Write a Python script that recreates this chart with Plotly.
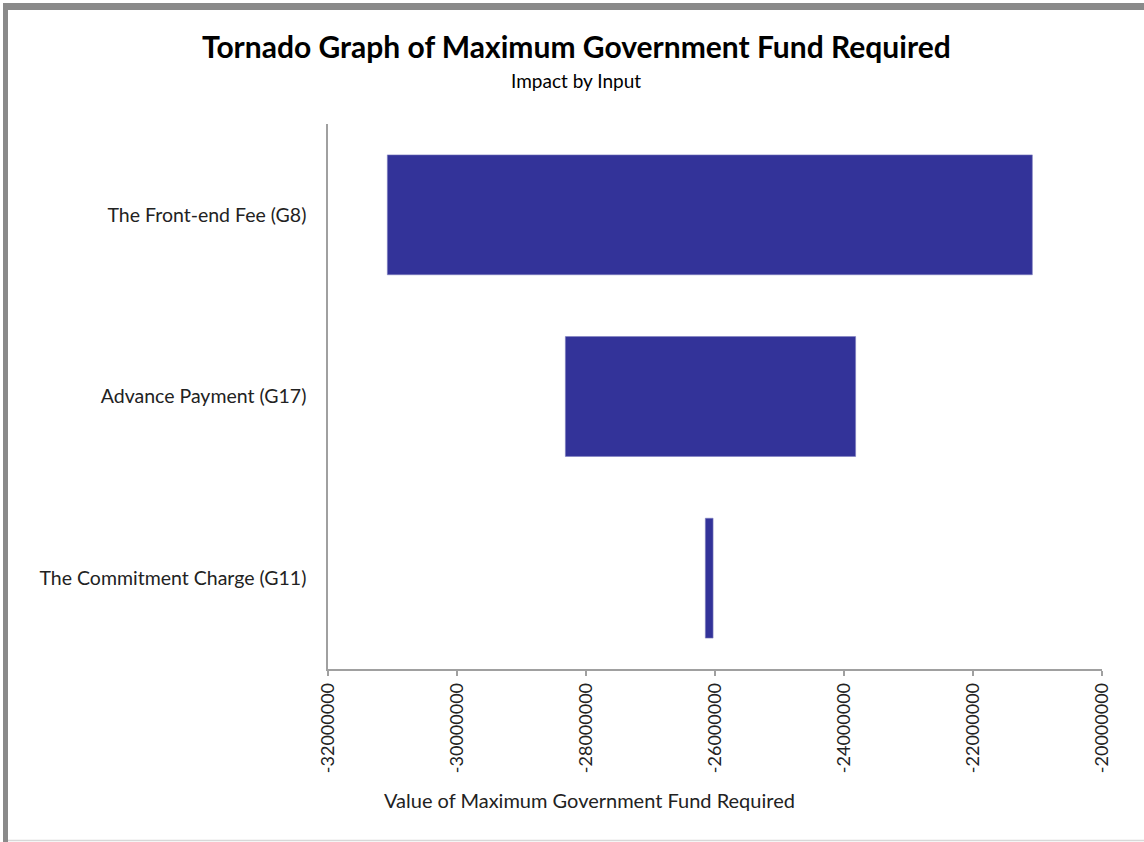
import plotly.graph_objects as go

# Inputs (top to bottom) and the output range each one produces
inputs = ["The Front-end Fee (G8)", "Advance Payment (G17)", "The Commitment Charge (G11)"]
low_values = [-31080000, -28320000, -26150000]
high_values = [-21080000, -23820000, -26030000]

tick_values = [-32000000, -30000000, -28000000, -26000000, -24000000, -22000000, -20000000]
tick_labels = ["-32000000", "-30000000", "-28000000", "-26000000", "-24000000", "-22000000", "-20000000"]

W, H = 1144, 842
ML, MR, MT, MB = 328, 42, 124, 173
PW, PH = W - ML - MR, H - MT - MB


def px_x(px):
    return (px - ML) / PW


def px_y(py):
    return (H - MB - py) / PH


FONT = "Lato"
TEXT = "#222222"

fig = go.Figure()
fig.add_trace(go.Bar(
    y=inputs,
    x=[h - l for l, h in zip(low_values, high_values)],
    base=low_values,
    orientation="h",
    width=0.66,
    marker=dict(color="#333399", line=dict(color="#8080c0", width=0.6)),
    hoverinfo="skip",
))

fig.update_layout(
    width=W,
    height=H,
    margin=dict(l=ML, r=MR, t=MT, b=MB),
    paper_bgcolor="white",
    plot_bgcolor="white",
    showlegend=False,
    font=dict(family=FONT, color=TEXT),
    xaxis=dict(
        range=[-32000000, -20000000],
        tickvals=tick_values,
        ticktext=tick_labels,
        tickangle=-90,
        ticks="outside",
        ticklen=5,
        tickcolor="#a0a0a0",
        tickwidth=1.5,
        tickfont=dict(size=18, family=FONT, color=TEXT),
        showgrid=False,
        zeroline=False,
        showline=True,
        linecolor="#a0a0a0",
        linewidth=1.5,
    ),
    yaxis=dict(
        categoryorder="array",
        categoryarray=inputs[::-1],
        showgrid=False,
        zeroline=False,
        showline=True,
        linecolor="#a0a0a0",
        linewidth=1.5,
        ticks="",
        ticklabelstandoff=16,
        tickfont=dict(size=19.5, family=FONT, color=TEXT),
    ),
)

# Title, subtitle and x-axis title
fig.add_annotation(text="<b>Tornado Graph of Maximum Government Fund Required</b>",
                   xref="paper", yref="paper", x=px_x(576), y=px_y(46),
                   xanchor="center", yanchor="middle", showarrow=False,
                   font=dict(size=30, family=FONT, color="#000000"))
fig.add_annotation(text="Impact by Input",
                   xref="paper", yref="paper", x=px_x(576), y=px_y(80),
                   xanchor="center", yanchor="middle", showarrow=False,
                   font=dict(size=19, family=FONT, color="#000000"))
fig.add_annotation(text="Value of Maximum Government Fund Required",
                   xref="paper", yref="paper", x=px_x(589), y=px_y(800),
                   xanchor="center", yanchor="middle", showarrow=False,
                   font=dict(size=20, family=FONT, color=TEXT))

# Frame around the chart
fig.add_shape(type="rect", xref="paper", yref="paper",
              x0=px_x(3), x1=px_x(1144), y0=px_y(10), y1=px_y(3),
              fillcolor="#8a8a8a", line=dict(width=0), layer="above")
fig.add_shape(type="rect", xref="paper", yref="paper",
              x0=px_x(3), x1=px_x(8), y0=px_y(842), y1=px_y(3),
              fillcolor="#8a8a8a", line=dict(width=0), layer="above")
fig.add_shape(type="line", xref="paper", yref="paper",
              x0=px_x(8), x1=px_x(1144), y0=px_y(840.5), y1=px_y(840.5),
              line=dict(color="#d8d8d8", width=1.5), layer="above")

fig.write_html("out.html")
